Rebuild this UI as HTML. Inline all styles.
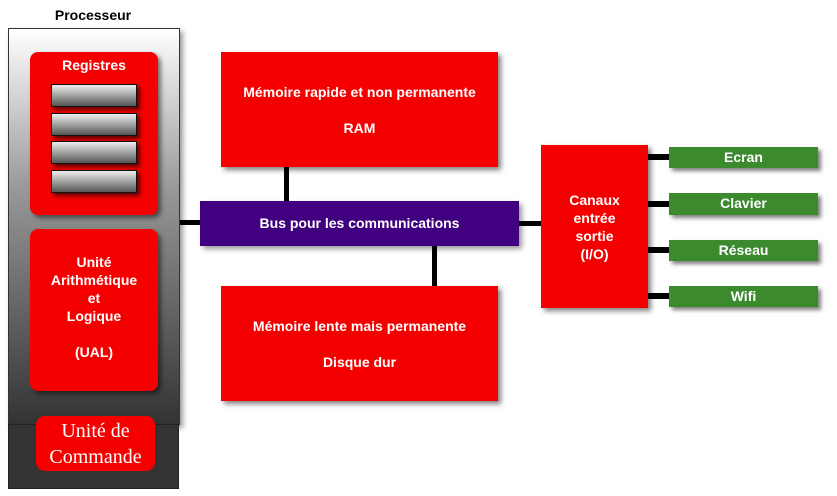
<!DOCTYPE html>
<html><head><meta charset="utf-8"><style>
body{margin:0;width:837px;height:496px;background:#fff;position:relative;overflow:hidden;font-family:"Liberation Sans",sans-serif;}
div{position:absolute;box-sizing:border-box;}
.red{background:#f40000;color:#fff;font-weight:bold;font-size:14px;text-align:center;box-shadow:3px 3px 5px rgba(0,0,0,.5);}
.g{background:#3b8a2e;color:#fff;font-weight:bold;font-size:14px;text-align:center;line-height:21px;box-shadow:3px 3px 4px rgba(0,0,0,.5);}
.bar{background:linear-gradient(#eee,#555);border:1px solid #111;left:51px;width:86px;height:23px;box-shadow:3px 3px 4px rgba(0,0,0,.6);}
.ln{background:#000;}
</style></head><body>
<div style="left:0;top:7px;width:186px;text-align:center;font-weight:bold;font-size:14px;">Processeur</div>
<div style="left:8px;top:28px;width:172px;height:397px;border:1px solid #333;background:linear-gradient(#fff,#999 40%,#333);box-shadow:3px 3px 5px rgba(0,0,0,.4);"></div>
<div style="left:8px;top:424px;width:171px;height:65px;border:1px solid #222;background:#333;"></div>
<div class="red" style="left:30px;top:52px;width:128px;height:163px;border-radius:8px;padding-top:5px;">Registres</div>
<div class="bar" style="top:84px"></div>
<div class="bar" style="top:113px"></div>
<div class="bar" style="top:141px"></div>
<div class="bar" style="top:170px"></div>
<div class="red" style="left:30px;top:229px;width:128px;height:162px;border-radius:8px;padding-top:24px;line-height:18px;">Unité<br>Arithmétique<br>et<br>Logique<br><br>(UAL)</div>
<div style="left:36px;top:416px;width:119px;height:55px;border-radius:9px;background:#f40000;color:#fff;font-family:'Liberation Serif',serif;font-size:20px;text-align:center;line-height:26px;padding-top:2px;">Unité de<br>Commande</div>
<div class="ln" style="left:180px;top:220px;width:20px;height:5px;"></div>
<div class="ln" style="left:284px;top:167px;width:5px;height:34px;"></div>
<div class="ln" style="left:432px;top:246px;width:5px;height:40px;"></div>
<div class="ln" style="left:519px;top:221px;width:22px;height:5px;"></div>
<div class="red" style="left:221px;top:52px;width:277px;height:115px;padding-top:31px;line-height:18px;">Mémoire rapide et non permanente<br><br>RAM</div>
<div class="red" style="left:221px;top:286px;width:277px;height:115px;padding-top:31px;line-height:18px;">Mémoire lente mais permanente<br><br>Disque dur</div>
<div style="left:200px;top:201px;width:319px;height:45px;background:#40007f;color:#fff;font-weight:bold;font-size:14px;text-align:center;line-height:45px;box-shadow:3px 3px 5px rgba(0,0,0,.4);">Bus pour les communications</div>
<div class="red" style="left:541px;top:145px;width:107px;height:163px;padding-top:46px;line-height:18px;font-size:14px;">Canaux<br>entrée<br>sortie<br>(I/O)</div>
<div class="ln" style="left:648px;top:154px;width:21px;height:6px;"></div>
<div class="ln" style="left:648px;top:201px;width:21px;height:6px;"></div>
<div class="ln" style="left:648px;top:247px;width:21px;height:6px;"></div>
<div class="ln" style="left:648px;top:293px;width:21px;height:6px;"></div>
<div class="g" style="left:669px;top:147px;width:149px;height:21px;">Ecran</div>
<div class="g" style="left:669px;top:193px;width:149px;height:22px;">Clavier</div>
<div class="g" style="left:669px;top:240px;width:149px;height:21px;">Réseau</div>
<div class="g" style="left:669px;top:286px;width:149px;height:21px;">Wifi</div>
</body></html>
